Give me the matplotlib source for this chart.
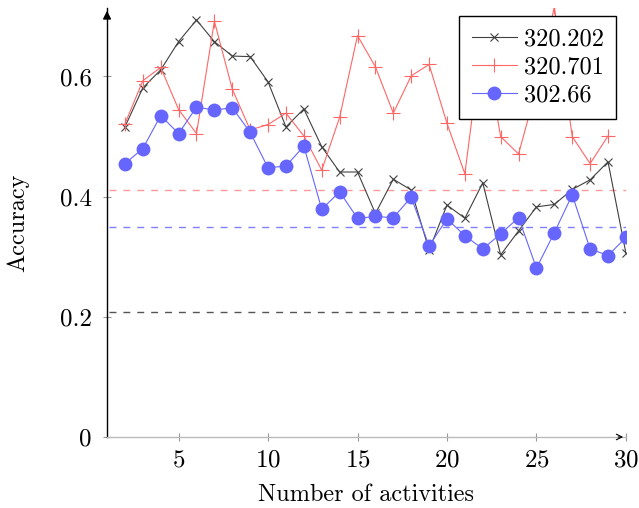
import matplotlib
matplotlib.use("Agg")
import matplotlib.pyplot as plt

plt.rcParams['font.family'] = ['cmr10', 'DejaVu Serif']
plt.rcParams['mathtext.fontset'] = 'cm'
plt.rcParams['axes.formatter.use_mathtext'] = True

x_black = list(range(2, 31))
y_black = [0.516, 0.581, 0.611, 0.658, 0.694, 0.658, 0.634, 0.633, 0.591, 0.516,
           0.546, 0.483, 0.441, 0.441, 0.372, 0.429, 0.411, 0.311, 0.386, 0.364,
           0.423, 0.303, 0.343, 0.383, 0.387, 0.412, 0.428, 0.458, 0.306]

x_red = list(range(2, 30))
y_red = [0.521, 0.593, 0.615, 0.545, 0.505, 0.692, 0.579, 0.511, 0.520, 0.539,
         0.501, 0.444, 0.532, 0.668, 0.616, 0.539, 0.601, 0.620, 0.522, 0.438,
         0.670, 0.500, 0.471, 0.580, 0.716, 0.500, 0.455, 0.501]

x_blue = list(range(2, 31))
y_blue = [0.455, 0.480, 0.535, 0.505, 0.549, 0.544, 0.548, 0.507, 0.448, 0.451,
          0.484, 0.379, 0.408, 0.364, 0.367, 0.365, 0.399, 0.318, 0.363, 0.335,
          0.313, 0.338, 0.365, 0.281, 0.340, 0.403, 0.313, 0.302, 0.332]

labels = ["320.202", "320.701", "302.66"]
baselines = [0.208, 0.411, 0.349]
xticks = [5, 10, 15, 20, 25, 30]
yticks = [0, 0.2, 0.4, 0.6]

c_black = '#404040'
c_red = '#ff6666'
c_blue = '#6666ff'

fig = plt.figure(figsize=(6.39, 5.08), dpi=100)
ax = fig.add_axes([0.1675, 0.1398, 0.812, 0.8445])

xmin, xmax = 1, 30
ax.hlines(baselines[0], 1.1, 30, colors='#555555', linestyles=(0, (5, 5)), lw=1.0)
ax.hlines(baselines[1], 1.1, 30, colors='#ff9999', linestyles=(0, (5, 5)), lw=1.0)
ax.hlines(baselines[2], 1.1, 30, colors='#8080ff', linestyles=(0, (5, 5)), lw=1.0)

ax.plot(x_black, y_black, color=c_black, lw=0.8, marker='x', ms=6, mew=0.8, label=labels[0])
ax.plot(x_red, y_red, color=c_red, lw=0.8, marker='+', ms=10, mew=0.8, label=labels[1])
ax.plot(x_blue, y_blue, color=c_blue, lw=0.8, marker='o', ms=10, mew=0, label=labels[2])

ax.set_xlim(xmin, xmax)
ax.set_ylim(0, 0.714)
ax.set_xticks(xticks)
ax.set_yticks(yticks)
ax.set_yticklabels(['0', '0.2', '0.4', '0.6'])

for s in ['top', 'right']:
    ax.spines[s].set_visible(False)
ax.spines['left'].set_color('black')
ax.spines['left'].set_linewidth(1.0)
ax.spines['bottom'].set_color('#bbbbbb')
ax.spines['bottom'].set_linewidth(1.0)
ax.tick_params(axis='both', direction='inout', length=6, width=0.8, color='#999999',
               labelsize=18, pad=8)
ax.tick_params(axis='x', pad=6)

# axis arrows
ax.annotate('', xy=(0, 1.0), xytext=(0, 0.97), xycoords='axes fraction',
            arrowprops=dict(arrowstyle='-|>', color='black', lw=1.0, mutation_scale=12))
ax.annotate('', xy=(1.0, 0), xytext=(0.98, 0), xycoords='axes fraction',
            arrowprops=dict(arrowstyle='->', color='black', lw=0.8, mutation_scale=10))

ax.set_xlabel('Number of activities', fontsize=17.5, labelpad=9)
ax.set_ylabel('Accuracy', fontsize=17.5, labelpad=22)

leg = ax.legend(loc='upper right', bbox_to_anchor=(0.981, 0.981), fontsize=17.5,
                fancybox=False, edgecolor='black', framealpha=1, handlelength=1.85,
                borderpad=0.5, labelspacing=0.25, handletextpad=0.3,
                borderaxespad=0.0)
leg.get_frame().set_linewidth(1.0)

fig.savefig('out.png', dpi=100)
